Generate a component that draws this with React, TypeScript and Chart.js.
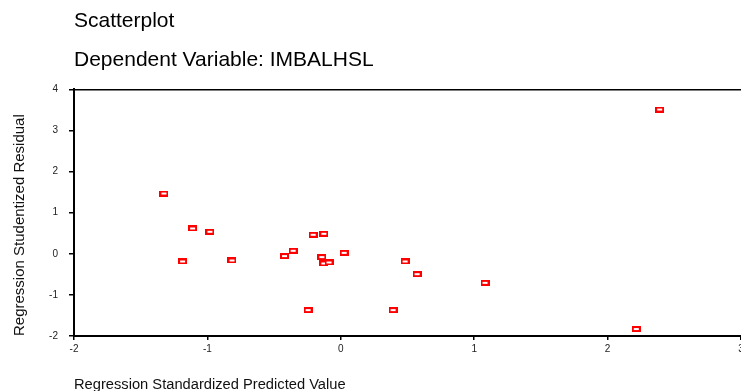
import React, { useEffect, useRef } from "react";
import { Chart, registerables } from "chart.js";

Chart.register(...registerables);

const titleText = "Scatterplot";
const subtitleText = "Dependent Variable: IMBALHSL";
const xTitle = "Regression Standardized Predicted Value";
const yTitle = "Regression Studentized Residual";

const predicted = [
  -1.326, -1.186, -1.111, -0.981, -0.816, -0.422, -0.357, -0.245, -0.207, -0.142,
  -0.127, -0.127, -0.088, 0.025, 0.392, 0.482, 0.572, 1.081, 2.215, 2.39,
];
const residual = [
  1.467, -0.187, 0.616, 0.535, -0.163, -0.056, 0.073, -1.37, 0.462, -0.08,
  0.487, -0.236, -0.211, 0.024, -1.37, -0.187, -0.495, -0.706, -1.83, 3.51,
];

const xMin = -2;
const xMax = 3;
const yMin = -2;
const yMax = 4;

const FONT = "'Liberation Sans', Arial, Helvetica, sans-serif";

function makeMarker(): HTMLCanvasElement {
  const c = document.createElement("canvas");
  c.width = 9;
  c.height = 6;
  const g = c.getContext("2d")!;
  g.fillStyle = "#ff0000";
  g.fillRect(0, 0, 9, 6);
  g.fillStyle = "#ffffff";
  g.fillRect(2, 2, 5, 2);
  return c;
}

export default function App() {
  const ref = useRef<HTMLCanvasElement | null>(null);

  useEffect(() => {
    if (!ref.current) return;
    const marker = makeMarker();
    const points = predicted.map((x, i) => ({ x, y: residual[i] }));
    const chart = new Chart(ref.current, {
      type: "scatter",
      data: {
        datasets: [
          {
            data: points,
            pointStyle: marker as any,
            pointRadius: 5,
            pointHoverRadius: 5,
            borderColor: "#ff0000",
            backgroundColor: "#ffffff",
          },
        ],
      },
      options: {
        animation: false,
        responsive: true,
        maintainAspectRatio: false,
        layout: { autoPadding: false, padding: 0 },
        plugins: {
          legend: { display: false },
          tooltip: { enabled: false },
          title: {
            display: true,
            text: titleText,
            align: "start",
            fullSize: false,
            color: "#000",
            font: { family: FONT, size: 21, weight: "normal", lineHeight: 1.2 },
            padding: { top: 9, bottom: 0 },
          },
          subtitle: {
            display: true,
            text: subtitleText,
            align: "start",
            fullSize: false,
            color: "#000",
            font: { family: FONT, size: 21, weight: "normal", lineHeight: 1.2 },
            padding: { top: 13, bottom: 17 },
          },
        },
        scales: {
          x: {
            type: "linear",
            min: xMin,
            max: xMax,
            afterFit: (s: any) => {
              s.height = 55;
              s.paddingLeft = 0;
              s.paddingRight = 0;
            },
            border: { display: true, color: "#000", width: 2 },
            grid: {
              drawOnChartArea: false,
              drawTicks: true,
              tickLength: 4,
              tickColor: "#000",
              lineWidth: 1.5,
            },
            ticks: {
              stepSize: 1,
              color: "#222",
              padding: 3,
              maxRotation: 0,
              font: { family: FONT, size: 10 },
            },
            title: {
              display: true,
              text: xTitle,
              align: "start",
              color: "#111",
              font: { family: FONT, size: 14.7, lineHeight: 0.84 },
              padding: { top: 0, bottom: 0 },
            },
          },
          y: {
            type: "linear",
            min: yMin,
            max: yMax,
            afterFit: (s: any) => {
              s.width = 74;
              s.paddingTop = 0;
              s.paddingBottom = 0;
            },
            border: { display: true, color: "#000", width: 2 },
            grid: {
              drawOnChartArea: true,
              drawTicks: true,
              tickLength: 5,
              tickColor: "#000",
              color: (ctx: any) => (ctx.tick && ctx.tick.value === yMax ? "#000" : "rgba(0,0,0,0)"),
              lineWidth: 1.5,
            },
            ticks: {
              stepSize: 1,
              color: "#222",
              padding: 11,
              font: { family: FONT, size: 10 },
            },
            title: {
              display: true,
              text: yTitle,
              align: "start",
              color: "#111",
              font: { family: FONT, size: 15, lineHeight: 1.2 },
              padding: { top: 11, bottom: 0 },
            },
          },
        },
      },
    });
    return () => chart.destroy();
  }, []);

  return (
    <div style={{ position: "absolute", left: 0, top: 0, width: 741, height: 391, background: "#fff", overflow: "hidden" }}>
      <canvas ref={ref} />
    </div>
  );
}
